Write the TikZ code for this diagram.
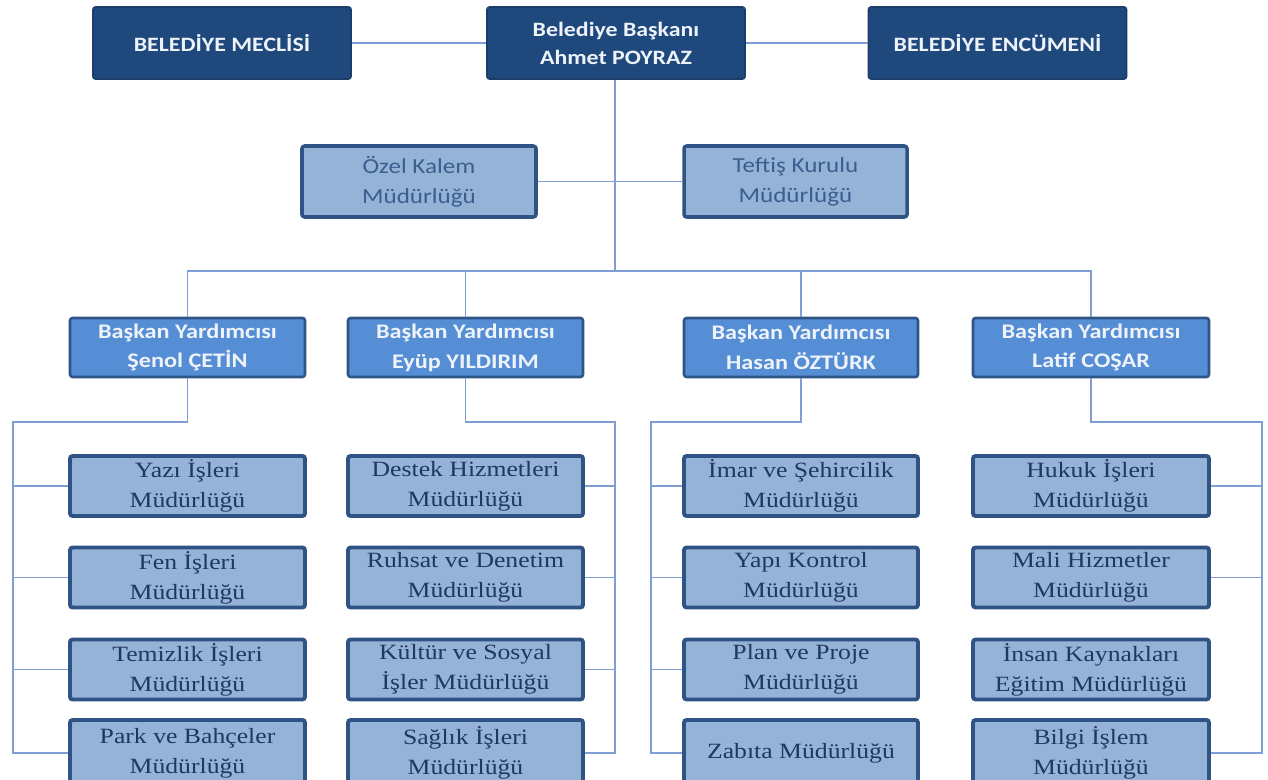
\documentclass[tikz,border=0pt]{standalone}
\usepackage{fontspec}
\setmainfont{Liberation Serif}
\newfontfamily\calfont[FakeStretch=1.17]{Carlito}
\newfontfamily\serwide[FakeStretch=1.18]{Liberation Serif}
\definecolor{darkfill}{HTML}{1F497D}
\definecolor{darkborder}{HTML}{1A3D6B}
\definecolor{vpfill}{HTML}{558ED5}
\definecolor{vpborder}{HTML}{2E5587}
\definecolor{lightfill}{HTML}{95B3D7}
\definecolor{lightborder}{HTML}{2F5385}
\definecolor{toptext}{HTML}{EEF3FA}
\definecolor{deptext}{HTML}{1F3763}
\definecolor{midtext}{HTML}{3A5E8E}
\definecolor{conncol}{HTML}{7F9ED4}
\tikzset{
  topbox/.style={draw=darkborder, line width=1pt, fill=darkfill, rounded corners=1.5pt,
    text=toptext, align=center, inner sep=0pt,
    font=\calfont\bfseries\fontsize{11.6}{16}\selectfont,
    minimum width=258*0.02cm, minimum height=72*0.02cm},
  midbox/.style={draw=lightborder, line width=2pt, fill=lightfill, rounded corners=1.5pt,
    text=midtext, align=center, inner sep=0pt,
    font=\calfont\fontsize{12.2}{17}\selectfont,
    minimum height=71*0.02cm},
  vpbox/.style={draw=vpborder, line width=1.5pt, fill=vpfill, rounded corners=1.5pt,
    text=toptext, align=center, inner sep=0pt,
    font=\calfont\bfseries\fontsize{11.8}{17}\selectfont,
    minimum width=235*0.02cm, minimum height=59*0.02cm},
  depbox/.style={draw=lightborder, line width=2.2pt, fill=lightfill, rounded corners=1.5pt,
    text=deptext, align=center, inner sep=0pt,
    font=\serwide\fontsize{12.4}{17}\selectfont,
    minimum width=235*0.02cm, minimum height=60*0.02cm},
  conn/.style={draw=conncol, line width=1.1pt},
}
\begin{document}
\begin{tikzpicture}[x=0.02cm,y=-0.02cm]
\clip (0,0) rectangle (1268,780);
\fill[white] (0,0) rectangle (1268,780);

% top row
\node[topbox] (meclis) at (222,43) {BELEDİYE MECLİSİ};
\node[topbox] (baskan) at (616,43) {Belediye Başkanı\\Ahmet POYRAZ};
\node[topbox] (encumen) at (997.5,43) {BELEDİYE ENCÜMENİ};

% middle
\node[midbox, minimum width=234*0.02cm] (ozel) at (419,181.5) {Özel Kalem\\Müdürlüğü};
\node[midbox, minimum width=223*0.02cm] (teftis) at (795.5,181.5) {Teftiş Kurulu\\Müdürlüğü};

% vice presidents
\node[vpbox] (vp1) at (187.5,347.5) {Başkan Yardımcısı\\Şenol ÇETİN};
\node[vpbox] (vp2) at (465.5,347.5) {Başkan Yardımcısı\\Eyüp YILDIRIM};
\node[vpbox, minimum width=234*0.02cm] (vp3) at (801,347.5) {Başkan Yardımcısı\\Hasan ÖZTÜRK};
\node[vpbox, minimum width=236*0.02cm] (vp4) at (1091,347.5) {Başkan Yardımcısı\\Latif COŞAR};

% column 1
\node[depbox] (yazi) at (187.5,486) {Yazı İşleri\\Müdürlüğü};
\node[depbox] (fen) at (187.5,577.5) {Fen İşleri\\Müdürlüğü};
\node[depbox] (temizlik) at (187.5,669.5) {Temizlik İşleri\\Müdürlüğü};
\node[depbox, minimum height=66*0.02cm] (park) at (187.5,753) {Park ve Bahçeler\\Müdürlüğü};

% column 2
\node[depbox] (destek) at (465.5,486) {Destek Hizmetleri\\Müdürlüğü};
\node[depbox] (ruhsat) at (465.5,577.5) {Ruhsat ve Denetim\\Müdürlüğü};
\node[depbox] (kultur) at (465.5,669.5) {Kültür ve Sosyal\\İşler Müdürlüğü};
\node[depbox, minimum height=66*0.02cm] (saglik) at (465.5,753) {Sağlık İşleri\\Müdürlüğü};

% column 3
\node[depbox, minimum width=234*0.02cm] (imar) at (801,486) {İmar ve Şehircilik\\Müdürlüğü};
\node[depbox, minimum width=234*0.02cm] (yapi) at (801,577.5) {Yapı Kontrol\\Müdürlüğü};
\node[depbox, minimum width=234*0.02cm] (plan) at (801,669.5) {Plan ve Proje\\Müdürlüğü};
\node[depbox, minimum width=234*0.02cm, minimum height=66*0.02cm] (zabita) at (801,753) {Zabıta Müdürlüğü};

% column 4
\node[depbox, minimum width=236*0.02cm] (hukuk) at (1091,486) {Hukuk İşleri\\Müdürlüğü};
\node[depbox, minimum width=236*0.02cm] (mali) at (1091,577.5) {Mali Hizmetler\\Müdürlüğü};
\node[depbox, minimum width=236*0.02cm] (insan) at (1091,669.5) {İnsan Kaynakları\\Eğitim Müdürlüğü};
\node[depbox, minimum width=236*0.02cm, minimum height=66*0.02cm] (bilgi) at (1091,753) {Bilgi İşlem\\Müdürlüğü};

% coordinates
\coordinate (bus) at (615,271);
\coordinate (c1top) at (13,422);
\coordinate (c2top) at (615,422);
\coordinate (c3top) at (651,422);
\coordinate (c4top) at (1262,422);

% connectors
\draw[conn] (meclis.east) -- (baskan.west);
\draw[conn] (baskan.east) -- (encumen.west);
\draw[conn] (ozel.east) -- (teftis.west);
\draw[conn] (baskan.south -| bus) -- (bus);
\draw[conn] (vp1.north) |- (bus) -| (vp4.north);
\draw[conn] (vp2.north) -- (vp2.north |- bus);
\draw[conn] (vp3.north) -- (vp3.north |- bus);

\draw[conn] (vp1.south) |- (c1top) |- (park.west);
\draw[conn] (c1top |- yazi.west) -- (yazi.west);
\draw[conn] (c1top |- fen.west) -- (fen.west);
\draw[conn] (c1top |- temizlik.west) -- (temizlik.west);

\draw[conn] (vp2.south) |- (c2top) |- (saglik.east);
\draw[conn] (c2top |- destek.east) -- (destek.east);
\draw[conn] (c2top |- ruhsat.east) -- (ruhsat.east);
\draw[conn] (c2top |- kultur.east) -- (kultur.east);

\draw[conn] (vp3.south) |- (c3top) |- (zabita.west);
\draw[conn] (c3top |- imar.west) -- (imar.west);
\draw[conn] (c3top |- yapi.west) -- (yapi.west);
\draw[conn] (c3top |- plan.west) -- (plan.west);

\draw[conn] (vp4.south) |- (c4top) |- (bilgi.east);
\draw[conn] (c4top |- hukuk.east) -- (hukuk.east);
\draw[conn] (c4top |- mali.east) -- (mali.east);
\end{tikzpicture}
\end{document}
